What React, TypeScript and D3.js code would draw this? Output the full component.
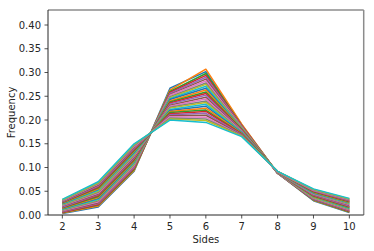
import React from "react";
import * as d3 from "d3";

const sides = [2, 3, 4, 5, 6, 7, 8, 9, 10];
const yTicks = [0, 0.05, 0.1, 0.15, 0.2, 0.25, 0.3, 0.35, 0.4];

const f2 = [.003,.004,.005,.006,.007,.008,.009,.010,.011,.012,.013,.014,.015,.016,.017,.019,.020,.021,.022,.023,.024,.025,.026,.027,.028,.029,.030,.031,.032,.033];
const f3 = [.017,.019,.021,.022,.024,.026,.028,.030,.032,.033,.035,.037,.039,.041,.043,.044,.046,.048,.050,.052,.054,.055,.057,.059,.061,.063,.065,.066,.068,.070];
const f4 = [.092,.094,.096,.098,.100,.102,.104,.106,.108,.110,.112,.114,.116,.118,.120,.122,.124,.126,.128,.130,.132,.134,.136,.138,.140,.142,.144,.146,.148,.150];
const f5 = [.267,.263,.260,.258,.256,.254,.252,.249,.247,.245,.243,.240,.238,.236,.234,.231,.229,.227,.225,.222,.220,.218,.216,.213,.211,.209,.207,.204,.202,.200];
const f6 = [.302,.307,.298,.294,.290,.286,.282,.278,.275,.271,.267,.263,.259,.256,.252,.248,.244,.240,.237,.233,.229,.225,.221,.218,.214,.210,.206,.202,.199,.195];
const f7 = [.190,.191,.188,.188,.187,.186,.185,.184,.183,.182,.181,.181,.180,.179,.178,.177,.176,.175,.174,.174,.173,.172,.171,.170,.169,.168,.167,.167,.166,.165];
const f8 = [.088,.088,.088,.088,.088,.088,.088,.088,.089,.089,.089,.089,.089,.089,.089,.090,.090,.090,.090,.090,.090,.090,.091,.091,.091,.091,.091,.092,.092,.092];
const f9 = [.030,.031,.032,.033,.033,.034,.035,.036,.037,.038,.039,.039,.040,.041,.042,.043,.044,.045,.046,.046,.047,.048,.049,.050,.051,.052,.052,.053,.054,.055];
const f10 = [.005,.006,.007,.008,.009,.010,.011,.012,.013,.014,.015,.016,.017,.018,.019,.021,.022,.023,.024,.025,.026,.027,.028,.029,.030,.031,.032,.033,.034,.035];

const columns = [f2, f3, f4, f5, f6, f7, f8, f9, f10];

const W = 374, H = 251;
const L = 48, R = 363.7, T = 10, B = 215;

export default function App() {
  const x = d3.scaleLinear().domain([1.6, 10.4]).range([L, R]);
  const y = d3.scaleLinear().domain([0, 0.4316]).range([B, T]);
  const line = d3.line<[number, number]>().x(d => x(d[0])).y(d => y(d[1]));
  const colors = d3.schemeTableau10 && [
    "#1f77b4", "#ff7f0e", "#2ca02c", "#d62728", "#9467bd",
    "#8c564b", "#e377c2", "#7f7f7f", "#bcbd22", "#17becf",
  ];
  const series = f2.map((_, k) => sides.map((s, i) => [s, columns[i][k]] as [number, number]));
  const font = "DejaVu Sans, sans-serif";
  return (
    <svg width={W} height={H} style={{ position: "absolute", left: 0, top: 0, background: "#fff" }}>
      <g>
        {series.map((s, k) => (
          <path key={k} d={line(s) || ""} fill="none" stroke={colors[k % 10]} strokeWidth={1.5} strokeLinejoin="round" />
        ))}
      </g>
      <line x1={L} x2={R} y1={T} y2={T} stroke="#8c8c8c" strokeWidth={1.5} />
      <line x1={R} x2={R} y1={T} y2={B} stroke="#8c8c8c" strokeWidth={1.5} />
      <line x1={L} x2={L} y1={T} y2={B} stroke="#262626" strokeWidth={1} />
      <line x1={L} x2={R} y1={B} y2={B} stroke="#262626" strokeWidth={1} />
      {yTicks.map(t => (
        <g key={t}>
          <line x1={L - 3.5} x2={L} y1={y(t)} y2={y(t)} stroke="#262626" strokeWidth={0.8} />
          <text x={L - 7} y={y(t) + 3.6} textAnchor="end" fontSize={10} fontFamily={font} fill="#262626">
            {t.toFixed(2)}
          </text>
        </g>
      ))}
      {sides.map(s => (
        <g key={s}>
          <line x1={x(s)} x2={x(s)} y1={B} y2={B + 3.5} stroke="#262626" strokeWidth={0.8} />
          <text x={x(s)} y={B + 15} textAnchor="middle" fontSize={10} fontFamily={font} fill="#262626">
            {s}
          </text>
        </g>
      ))}
      <text x={(L + R) / 2} y={243} textAnchor="middle" fontSize={10} fontFamily={font} fill="#262626">Sides</text>
      <text transform={`translate(15,${(T + B) / 2}) rotate(-90)`} textAnchor="middle" fontSize={10} fontFamily={font} fill="#262626">Frequency</text>
    </svg>
  );
}
